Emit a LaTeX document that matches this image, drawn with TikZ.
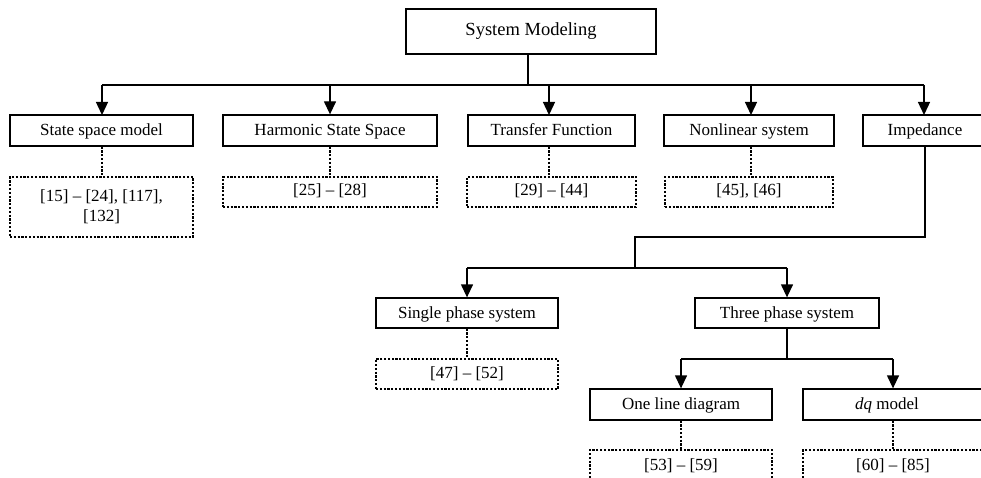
\documentclass[tikz,border=0pt]{standalone}
\usepackage{fontspec}
\setmainfont{Liberation Serif}
\usetikzlibrary{arrows.meta}
\begin{document}
\begin{tikzpicture}[x=1pt,y=-1pt,
  every node/.style={font=\fontsize{17}{20}\selectfont, inner sep=0pt},
  topic/.style={draw, line width=1.3pt, minimum height=31pt, text height=13pt, text depth=3pt},
  refbox/.style={draw, line width=1.1pt, dash pattern=on 2.2pt off 1.6pt, minimum height=30pt},
  onerow/.style={text height=11.5pt, text depth=3.5pt},
  link/.style={line width=1.3pt},
  arrowlink/.style={link, -{Triangle[width=12pt,length=13pt]}},
  reflink/.style={line width=1.2pt, dash pattern=on 2.2pt off 1.6pt}]
\useasboundingbox (0,0) rectangle (981,478);
\clip (0,0) rectangle (981,478);

% root
\node[topic, minimum width=250pt, minimum height=45pt, text height=11.5pt, text depth=3.5pt, font=\fontsize{18.5}{22}\selectfont] (root) at (531,31.5) {System Modeling};

% first level
\node[topic, minimum width=183pt] (ssm) at (101.5,130.5) {State space model};
\node[topic, minimum width=214pt] (hss) at (330,130.5) {Harmonic State Space};
\node[topic, minimum width=167pt] (tf)  at (551.5,130.5) {Transfer Function};
\node[topic, minimum width=170pt] (nl)  at (749,130.5) {Nonlinear system};
\node[topic, minimum width=124pt] (imp) at (925,130.5) {Impedance};

% references of the first level
\node[refbox, minimum width=183pt, minimum height=60pt, align=center] (ssmr) at (101.5,207) {[15] – [24], [117],\\\relax [132]};
\node[refbox, onerow, minimum width=214pt] (hssr) at (330,192) {[25] – [28]};
\node[refbox, onerow, minimum width=169pt] (tfr)  at (551.5,192) {[29] – [44]};
\node[refbox, onerow, minimum width=168pt] (nlr)  at (749,192) {[45], [46]};

% impedance branch
\node[topic, minimum width=182pt, minimum height=30pt] (sps) at (467,313) {Single phase system};
\node[topic, minimum width=184pt, minimum height=30pt] (tps) at (787,313) {Three phase system};
\node[refbox, onerow, minimum width=182pt] (spsr) at (467,374) {[47] – [52]};

% three phase branch
\node[topic, minimum width=182pt] (old) at (681,404.5) {One line diagram};
\node[topic, minimum width=180pt] (dq)  at (893,404.5) {\hspace*{-12pt}\textit{dq} model};
\node[refbox, onerow, minimum width=182pt, minimum height=32pt] (oldr) at (681,466) {[53] – [59]};
\node[refbox, onerow, minimum width=180pt, minimum height=32pt] (dqr)  at (893,466) {[60] – [85]};

% bus coordinates
\coordinate (rootbus) at (528,85);
\coordinate (impturn) at (635,237);
\coordinate (impbus)  at (635,268);
\coordinate (tpsbus)  at (787,359);

% root tree
\draw[link] (root.south -| rootbus) -- (rootbus);
\draw[link] (102,85) -- (924,85);
\draw[arrowlink] (102,85) -- (102,115);
\draw[arrowlink] (330,85) -- (hss.north);
\draw[arrowlink] (549,85) -- (549,115);
\draw[arrowlink] (751,85) -- (751,115);
\draw[arrowlink] (924,85) -- (924,115);

% reference links
\draw[reflink] (ssm.south -| 102,0) -- (ssmr.north -| 102,0);
\draw[reflink] (hss.south) -- (hssr.north);
\draw[reflink] (tf.south -| 549,0) -- (tfr.north -| 549,0);
\draw[reflink] (nl.south -| 751,0) -- (nlr.north -| 751,0);
\draw[reflink] (sps.south) -- (spsr.north);
\draw[reflink] (old.south) -- (oldr.north);
\draw[reflink] (dq.south) -- (dqr.north);

% impedance tree
\draw[link] (imp.south) |- (impturn) -- (impbus);
\draw[link] (sps.north |- impbus) -- (tps.north |- impbus);
\draw[arrowlink] (sps.north |- impbus) -- (sps.north);
\draw[arrowlink] (tps.north |- impbus) -- (tps.north);

% three phase tree
\draw[link] (tps.south) -- (tpsbus);
\draw[link] (old.north |- tpsbus) -- (dq.north |- tpsbus);
\draw[arrowlink] (old.north |- tpsbus) -- (old.north);
\draw[arrowlink] (dq.north |- tpsbus) -- (dq.north);
\end{tikzpicture}
\end{document}
